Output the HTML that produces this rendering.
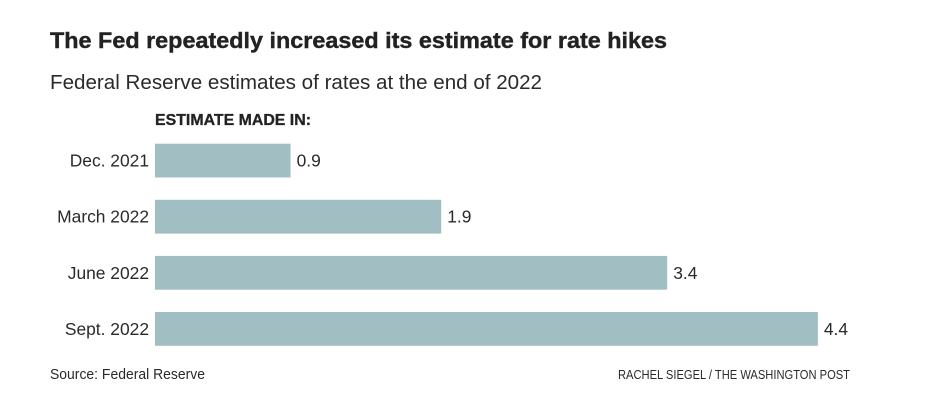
<!DOCTYPE html>
<html lang="en">
<head>
<meta charset="utf-8">
<title>The Fed repeatedly increased its estimate for rate hikes</title>
<style>
html,body{margin:0;padding:0;background:#fff;width:938px;height:416px;overflow:hidden}
svg{display:block}
text{font-family:"Liberation Sans",sans-serif;fill:#2a2a2a}
</style>
</head>
<body>
<svg id="chart" width="938" height="416" viewBox="0 0 938 416" xmlns="http://www.w3.org/2000/svg">
<rect x="0" y="0" width="938" height="416" fill="#ffffff"></rect>
<text x="50" y="48" font-size="22.5" font-weight="700" textLength="617" lengthAdjust="spacingAndGlyphs" style="fill:#222;stroke:#222;stroke-width:.4px">The Fed repeatedly increased its estimate for rate hikes</text>
<text x="50" y="89" font-size="20" textLength="492" lengthAdjust="spacingAndGlyphs">Federal Reserve estimates of rates at the end of 2022</text>
<text x="155" y="125" font-size="15.5" font-weight="700" textLength="156" lengthAdjust="spacingAndGlyphs" style="fill:#222;stroke:#222;stroke-width:.3px">ESTIMATE MADE IN:</text>
<g id="bars"></g>
<text x="50" y="379" font-size="14.5" textLength="155" lengthAdjust="spacingAndGlyphs">Source: Federal Reserve</text>
<text x="850" y="379" font-size="13" text-anchor="end" textLength="232" lengthAdjust="spacingAndGlyphs">RACHEL SIEGEL / THE WASHINGTON POST</text>
</svg>
<script>
const categories = ['Dec. 2021', 'March 2022', 'June 2022', 'Sept. 2022'];
const seriesValues = [0.9, 1.9, 3.4, 4.4];

const svgNS = 'http://www.w3.org/2000/svg';
const barsGroup = document.getElementById('bars');

function xScale(value) {
  return 150.65 * value;
}
function yBand(index) {
  return 143.7 + 56.1 * index;
}
const barLeft = 155;
const barHeight = 33.8;

categories.forEach(function (category, i) {
  const value = seriesValues[i];
  const y = yBand(i);
  const w = xScale(value);

  const label = document.createElementNS(svgNS, 'text');
  
  
  label.setAttribute('x', barLeft - 6);
  label.setAttribute('y', y + barHeight / 2 + 6);
  label.setAttribute('font-size', '17.4');
  label.setAttribute('text-anchor', 'end');
  label.textContent = category;
  barsGroup.appendChild(label);

  const bar = document.createElementNS(svgNS, 'rect');
  
  
  bar.setAttribute('x', barLeft);
  bar.setAttribute('y', y);
  bar.setAttribute('width', w);
  bar.setAttribute('height', barHeight);
  bar.setAttribute('fill', '#a1bfc2');
  barsGroup.appendChild(bar);

  const valueLabel = document.createElementNS(svgNS, 'text');
  
  
  valueLabel.setAttribute('x', barLeft + w + 6);
  valueLabel.setAttribute('y', y + barHeight / 2 + 6);
  valueLabel.setAttribute('font-size', '17.4');
  valueLabel.textContent = value.toFixed(1);
  barsGroup.appendChild(valueLabel);
});
</script>
</body>
</html>
